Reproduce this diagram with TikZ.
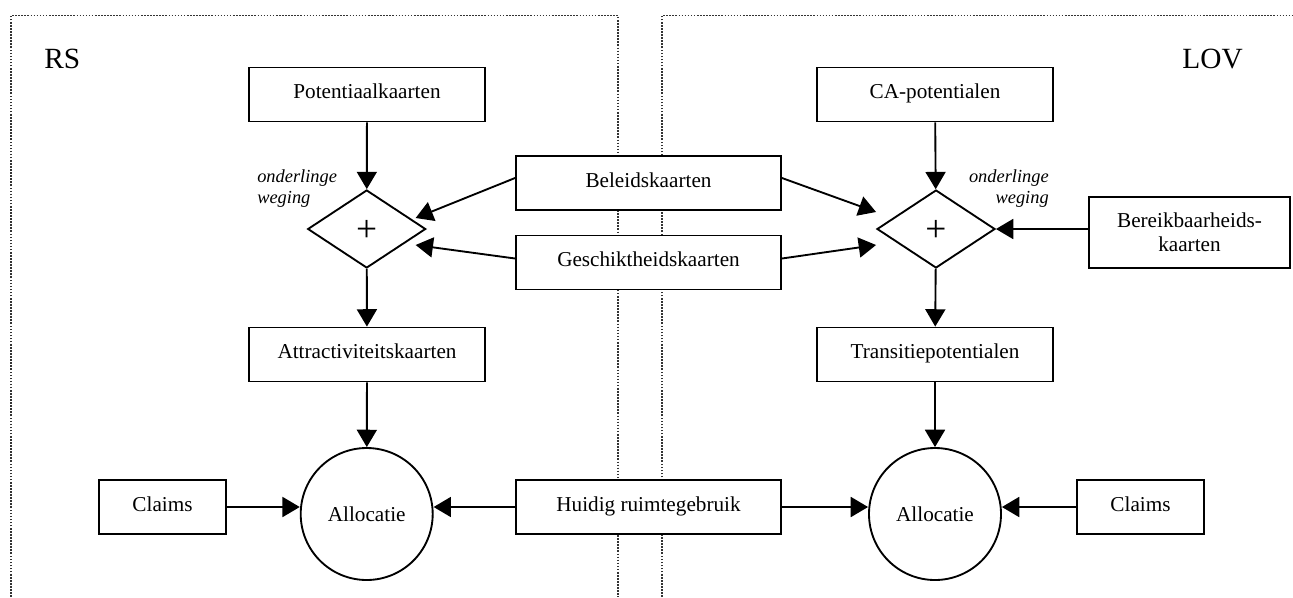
\documentclass[tikz,border=0pt]{standalone}
\usepackage{fontspec}
\setmainfont{Liberation Serif}
\usetikzlibrary{shapes.geometric,arrows.meta,calc}

\begin{document}
\begin{tikzpicture}[x=0.75pt,y=-0.75pt,
  box/.style={draw,fill=white,line width=1.4pt,minimum width=#1,minimum height=40.5pt,
    inner sep=2pt,align=center,text height=10.5pt,text depth=4.5pt,
    font=\fontsize{15.9}{18}\selectfont},
  box/.default=177pt,
  mix/.style={draw,fill=white,diamond,line width=1.4pt,minimum width=88.5pt,minimum height=58.5pt,
    inner sep=0pt,text height=19pt,text depth=0pt,font=\fontsize{28}{28}\selectfont},
  alloc/.style={draw,fill=white,circle,line width=1.4pt,minimum size=99pt,inner sep=0pt,
    font=\fontsize{15.9}{18}\selectfont},
  flow/.style={line width=1.4pt,-{Triangle[length=13pt,width=15pt]}},
  panel/.style={line width=1.3pt,color=black!80,dash pattern=on 1.2pt off 1.1pt},
  model/.style={font=\fontsize{22}{26}\selectfont,inner sep=0pt},
  weight/.style={font=\itshape\fontsize{13.8}{16}\selectfont,inner sep=0pt}
]
\useasboundingbox (0,0) rectangle (1293,597);

% the two model panels
\draw[panel] (11,597) -- (11,15.5) -- (618,15.5) -- (618,597);
\draw[panel] (662,597) -- (662,15.5) -- (1293,15.5);

\node[model,anchor=base west] (rs) at (44,68) {RS};
\node[model,anchor=base east] (lov) at (1243,68) {LOV};

% RS column
\node[box] (pot) at (367,94.5) {Potentiaalkaarten};
\node[mix] (dl) at (366.7,229) {+};
\node[box] (attr) at (367,354.5) {Attractiviteitskaarten};
\node[alloc] (cl) at (366.7,514) {Allocatie};
\node[box=95.25pt] (claimL) at (162.5,507) {Claims};
\node[weight,anchor=base west] (wl1) at (257,182) {onderlinge};
\node[weight,anchor=base west] (wl2) at (257,203) {weging};

% shared inputs
\node[box=198.75pt] (bel) at (648.5,183) {Beleidskaarten};
\node[box=198.75pt] (geo) at (648.5,262.5) {Geschiktheidskaarten};
\node[box=198.75pt] (hui) at (648.5,507) {Huidig ruimtegebruik};

% LOV column
\node[box] (ca) at (935,94.5) {CA-potentialen};
\node[mix] (dr) at (936,229) {+};
\node[box] (trans) at (935,354.5) {Transitiepotentialen};
\node[alloc] (cr) at (935,514) {Allocatie};
\node[box=150.75pt,minimum height=53.25pt,text height=,text depth=] (ber) at (1189.5,232.5) {Bereikbaarheids-\\kaarten};
\node[box=95.25pt] (claimR) at (1140.5,507) {Claims};
\node[weight,anchor=base east] (wr1) at (1049,182) {onderlinge};
\node[weight,anchor=base east] (wr2) at (1049,203) {weging};

% RS flows
\draw[flow] (pot) -- (dl);
\draw[flow] (dl) -- (attr);
\draw[flow] (attr) -- (cl);
\draw[flow] (claimL.east) -- (claimL.east -| cl.west);
\draw[flow] ($(bel.west)+(0,-5)$) -- ($(dl.east)+(-11,-11)$);
\draw[flow] ($(geo.west)+(0,-4)$) -- ($(dl.east)+(-11,16)$);
\draw[flow] (hui.west) -- (hui.west -| cl.east);

% LOV flows
\draw[flow] (ca) -- (dr);
\draw[flow] (dr) -- (trans);
\draw[flow] (trans) -- (cr);
\draw[flow] (claimR.west) -- (claimR.west -| cr.east);
\draw[flow] ($(bel.east)+(0,-5)$) -- ($(dr.west)+(0,-17)$);
\draw[flow] ($(geo.east)+(0,-4)$) -- ($(dr.west)+(0,16)$);
\draw[flow] (ber.west |- dr.east) -- (dr.east);
\draw[flow] (hui.east) -- (hui.east -| cr.west);
\end{tikzpicture}
\end{document}
